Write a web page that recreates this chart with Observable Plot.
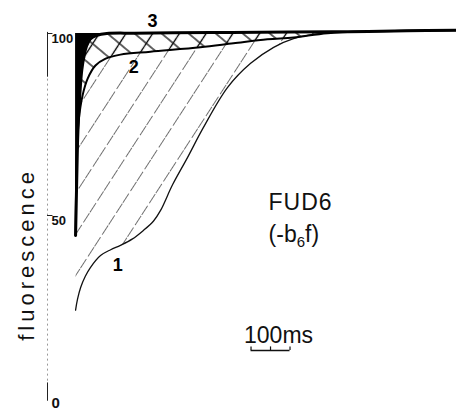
<!DOCTYPE html>
<html><head><meta charset="utf-8">
<script src="https://cdn.jsdelivr.net/npm/d3@7"></script>
<script src="https://cdn.jsdelivr.net/npm/@observablehq/plot@0.6"></script>
<style>html,body{margin:0;padding:0;background:#fff;} svg{display:block;}</style>
</head><body><div id="chart"></div>
<script>
// time (ms) and fluorescence (% of max)
const curve1Time = [0, 5, 13, 25, 38, 64, 90, 115, 145, 174, 200, 218, 249, 287, 328, 390, 449, 508, 559, 636, 760, 977];
const curve1F    = [24, 27, 30.2, 33.3, 35.7, 39, 40.6, 41.8, 43.5, 45.9, 48.5, 51.4, 58.5, 65.9, 74.2, 85.2, 91.8, 96.2, 98.6, 100.1, 100.6, 100.9];
const curve2Time = [0, 3, 8, 18, 31, 51, 77, 115, 192, 320, 405, 492, 559, 646, 760, 977];
const curve2F    = [44.5, 65, 76, 83, 87.6, 91.2, 93.1, 94.2, 95, 96.2, 97.3, 98.4, 98.9, 100.1, 100.6, 100.9];
const curve3Time = [0, 3, 5, 8, 12, 16, 22, 28, 38, 55, 80, 150, 250, 400, 550, 700, 850, 977];
const curve3F    = [44.5, 60, 70, 78, 85, 90, 94, 96.5, 98.5, 99.5, 100, 100.1, 100.2, 100.3, 100.4, 100.5, 100.75, 100.9];
const curveLabels = ["1", "2", "3"];
const curveLabelTime = [108, 149, 197];
const curveLabelF = [36.3, 90.7, 103.3];
const yTicks = [0, 50, 100];
const yLabel = "fluorescence";
const strainName = "FUD6";
const strainNote = "(-b6f)";
const scaleBarStart = 450, scaleBarLength = 100, scaleBarText = "100ms";

const zip = (T, F) => T.map((t, i) => ({t, F: F[i]}));
const c1 = zip(curve1Time, curve1F);
const c2 = zip(curve2Time, curve2F);
const c3 = zip(curve3Time, curve3F);
const polyA = c1.concat(c3.slice().reverse());
const polyB = c2.concat(c3.slice().reverse());
const spike = c3.filter(d => d.t <= 80);
const labels = curveLabels.map((s, i) => ({s, t: curveLabelTime[i], F: curveLabelF[i]}));
const xMin = -72;

const svg = Plot.plot({
  width: 456, height: 411,
  marginLeft: 47, marginRight: 0, marginTop: 33, marginBottom: 14,
  x: {domain: [xMin, 977], axis: null},
  y: {domain: [0, 100], axis: null},
  style: {fontFamily: "'Liberation Sans', Arial, sans-serif", background: "#fff", overflow: "visible", color: "#111"},
  marks: [
    Plot.line(polyA, {x: "t", y: "F", fill: "url(#hatchA)", stroke: "none"}),
    Plot.line(polyB, {x: "t", y: "F", fill: "url(#hatchC)", stroke: "none"}),
    Plot.line(polyB, {x: "t", y: "F", fill: "url(#hatchB)", stroke: "none"}),
    Plot.areaX(spike, {x1: 0, x2: "t", y: "F", fill: "#000", curve: "catmull-rom"}),
    Plot.line(c1, {x: "t", y: "F", stroke: "#111", strokeWidth: 1.3, curve: "catmull-rom"}),
    Plot.line(c2, {x: "t", y: "F", stroke: "#000", strokeWidth: 2, curve: "catmull-rom"}),
    Plot.line(c3, {x: "t", y: "F", stroke: "#000", strokeWidth: 3, curve: "catmull-rom"}),
    // y axis
    Plot.ruleX([xMin], {y1: -1, y2: 100.3, stroke: "#999", strokeDasharray: "2,3", strokeWidth: 1}),
    Plot.ruleX([xMin], {y1: 88, y2: 100.3, stroke: "#222", strokeWidth: 1}),
    Plot.ruleX([xMin], {y1: -1, y2: 4, stroke: "#222", strokeWidth: 1}),
    Plot.ruleY([100, 50], {x1: xMin, x2: xMin + 14, stroke: "#222", strokeWidth: 1}),
    Plot.text(yTicks, {y: d => d, text: d => String(d), frameAnchor: "left", dx: 4, textAnchor: "start", lineAnchor: "top", fontSize: d => d === 0 ? 15 : 13, fontWeight: "bold", fill: "#111"}),
    Plot.text([yLabel], {y: () => 39.3, text: d => d, frameAnchor: "left", dx: -14, rotate: -90, lineAnchor: "bottom", textAnchor: "middle", fontSize: 22, fill: "#111"}),
    // curve labels
    Plot.text(labels, {x: "t", y: "F", text: "s", fontSize: 18, fontWeight: "bold", fill: "#000"}),
    // annotation
    Plot.text([strainName], {x: () => 495, y: () => 51.4, text: d => d, textAnchor: "start", lineAnchor: "bottom", fontSize: 23, fill: "#111"}),
    Plot.text([strainNote], {x: () => 495, y: () => 42.6, text: d => d, textAnchor: "start", lineAnchor: "bottom", fontSize: 23, fill: "#111"}),
    // scale bar
    Plot.text([scaleBarText], {x: () => scaleBarStart - 18, y: () => 15.1, text: d => d, textAnchor: "start", lineAnchor: "bottom", fontSize: 23, fill: "#111"}),
    Plot.ruleY([12.9], {x1: scaleBarStart, x2: scaleBarStart + scaleBarLength, stroke: "#111", strokeWidth: 1.5}),
    Plot.ruleX([scaleBarStart, scaleBarStart + scaleBarLength / 2, scaleBarStart + scaleBarLength], {y1: 12.9, y2: 13.9, stroke: "#111", strokeWidth: 1.2})
  ]
});

svg.insertAdjacentHTML("afterbegin", `<defs>
<pattern id="hatchA" patternUnits="userSpaceOnUse" width="22.4" height="26" patternTransform="rotate(33)">
  <line x1="11.2" y1="0" x2="11.2" y2="26" stroke="#333" stroke-width="0.7" stroke-dasharray="11 3"/>
</pattern>
<pattern id="hatchC" patternUnits="userSpaceOnUse" width="22.4" height="26" patternTransform="rotate(33)">
  <line x1="11.2" y1="0" x2="11.2" y2="26" stroke="#111" stroke-width="1.3"/>
</pattern>
<pattern id="hatchB" patternUnits="userSpaceOnUse" width="17.4" height="20" patternTransform="rotate(-50)">
  <line x1="8.7" y1="0" x2="8.7" y2="20" stroke="#111" stroke-width="1.3"/>
</pattern>
</defs>`);

svg.querySelectorAll("text").forEach(el => {
  if (el.textContent === strainNote) {
    el.innerHTML = '(-b<tspan dy="5" font-size="15">6</tspan><tspan dy="-5">f)</tspan>';
  } else if (el.textContent === yLabel) {
    el.setAttribute("letter-spacing", "4");
  } else if (el.textContent === strainName) {
    el.setAttribute("letter-spacing", "1");
  }
});

document.getElementById("chart").appendChild(svg);
</script>
</body></html>
